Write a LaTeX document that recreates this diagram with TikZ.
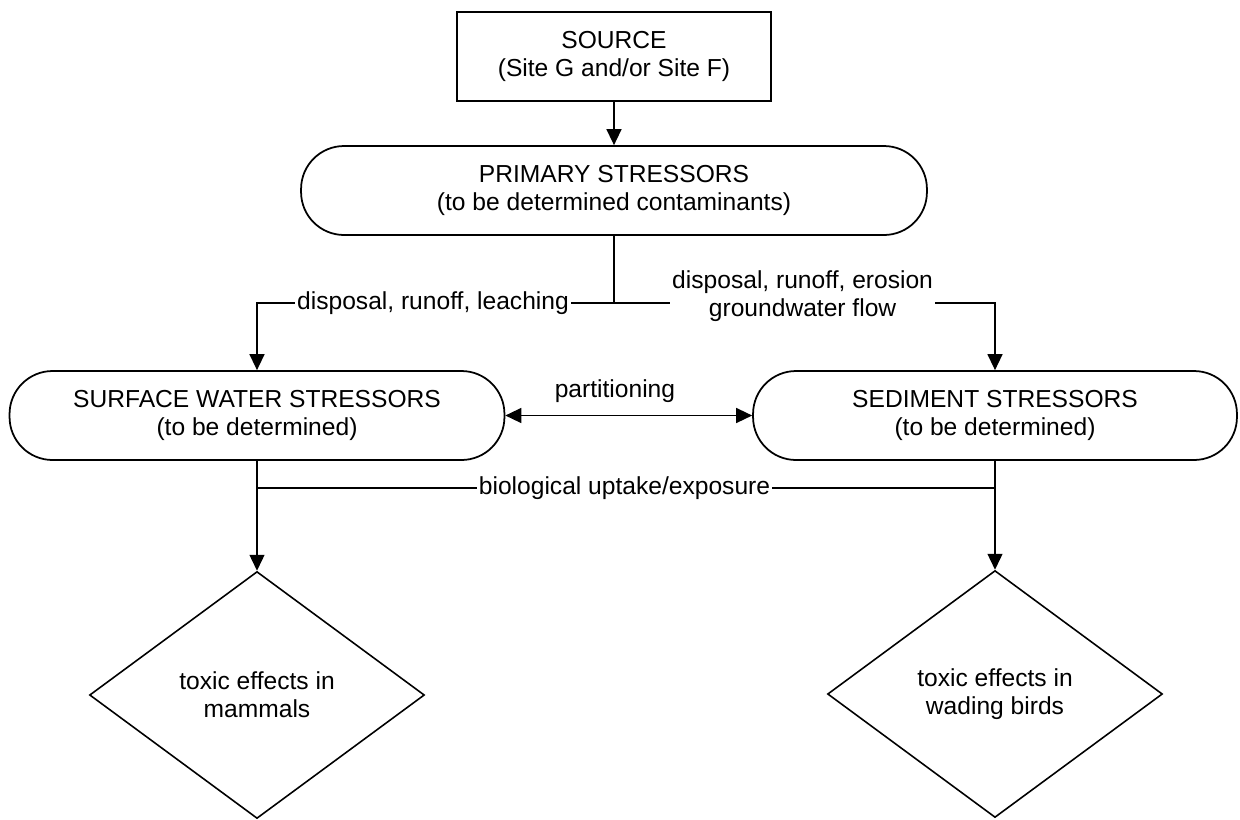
\documentclass[tikz,border=0pt]{standalone}
\usepackage{fontspec}
\setmainfont{Liberation Sans}
\usetikzlibrary{arrows.meta,shapes.geometric}
\begin{document}
\begin{tikzpicture}[x=0.02cm,y=-0.02cm,
  every node/.style={font=\fontsize{14}{16}\selectfont, align=center},
  box/.style={draw, line width=1pt, inner sep=0pt},
  srcbox/.style={box, minimum width=6.28cm, minimum height=1.78cm},
  pillbox/.style={box, rounded corners=0.86cm, minimum height=1.78cm},
  diam/.style={draw, diamond, line width=0.9pt, inner sep=0pt,
    minimum width=6.7cm, minimum height=4.94cm},
  conn/.style={line width=0.8pt},
  arr/.style={conn, -{Triangle[width=0.3cm,length=0.32cm]}},
  darr/.style={conn, {Triangle[width=0.3cm,length=0.32cm]}-{Triangle[width=0.3cm,length=0.32cm]}},
  lbl/.style={fill=white, inner sep=1pt}
]
\useasboundingbox (0,0) rectangle (1240,819);

% boxes
\node[srcbox] (src) at (614,56.5) {SOURCE\\(Site G and/or Site F)};
\node[pillbox, minimum width=12.52cm] (prim) at (614,190.5)
  {PRIMARY STRESSORS\\(to be determined contaminants)};
\node[pillbox, minimum width=9.9cm] (sw) at (257,415.5)
  {SURFACE WATER STRESSORS\\(to be determined)};
\node[pillbox, minimum width=9.68cm] (sed) at (995,415.5)
  {SEDIMENT STRESSORS\\(to be determined)};
\node[diam] (dm) at (257,695) {toxic effects in\\mammals};
\node[diam] (db) at (995,694) {toxic effects in\\wading birds};

% junction points
\coordinate (jn) at (614,303);
\coordinate (jl) at (257,303);
\coordinate (jr) at (995,303);
\coordinate (bl) at (257,488);
\coordinate (br) at (995,488);

% connectors
\draw[arr] (src.south) -- (prim.north);
\draw[conn] (prim.south) -- (jn);
\draw[arr] (jn) -- node[lbl, pos=0.507] {disposal, runoff, leaching} (jl) -- (sw.north);
\draw[arr] (jn) -- node[lbl, pos=0.495, yshift=0.14cm] {disposal, runoff, erosion\\groundwater flow} (jr) -- (sed.north);
\draw[darr] (sw.east) -- node[pos=0.444, above=0.12cm] {partitioning} (sed.west);
\draw[arr] (sw.south) -- (bl) -- (dm.north);
\draw[arr] (sed.south) -- (br) -- (db.north);
\draw[conn] (bl) -- node[lbl, pos=0.498] {biological uptake/exposure} (br);
\end{tikzpicture}
\end{document}
